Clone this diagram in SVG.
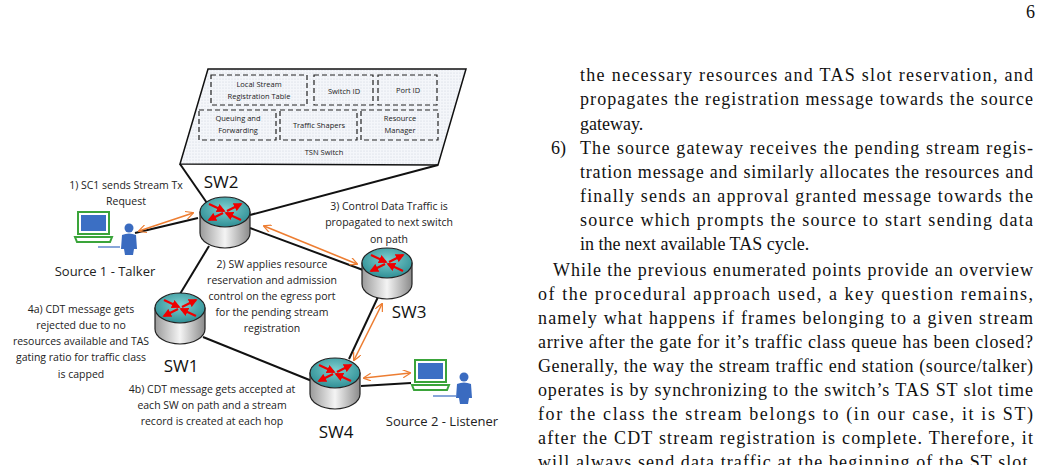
<svg xmlns="http://www.w3.org/2000/svg" width="1039" height="465" viewBox="0 0 1039 465">
<style>
.t{font-family:"Open Sans","Liberation Sans",sans-serif;font-size:10.5px;fill:#222;text-anchor:middle}
.s{font-family:"Open Sans","Liberation Sans",sans-serif;font-size:7.5px;fill:#222;text-anchor:middle}
.lab{font-family:"Open Sans","Liberation Sans",sans-serif;font-size:17px;fill:#111;text-anchor:middle}
.src{font-family:"Open Sans","Liberation Sans",sans-serif;font-size:13px;fill:#222;text-anchor:middle}
.p{font-family:"Liberation Serif",serif;font-size:18px;fill:#111}
.ln{stroke:#111;stroke-width:2;fill:none}
.or{stroke:#ED7D31;stroke-width:1.6;fill:none;marker-start:url(#oa);marker-end:url(#oa)}
.db{fill:none;stroke:#222;stroke-width:1.2;stroke-dasharray:5 3}
</style>
<defs>
<pattern id="dots" width="3" height="3" patternUnits="userSpaceOnUse"><rect width="3" height="3" fill="#f4f6fa"/><circle cx="1" cy="1" r="0.5" fill="#c5cbd6"/></pattern>
<marker id="oa" viewBox="0 0 10 10" refX="9" refY="5" markerWidth="8" markerHeight="8" orient="auto-start-reverse" markerUnits="userSpaceOnUse"><path d="M0,0 L10,5 L0,10" fill="none" stroke="#ED7D31" stroke-width="1.5"/></marker>
<marker id="ra" viewBox="0 0 10 10" refX="8" refY="5" markerWidth="4" markerHeight="4" orient="auto"><path d="M0,0 L10,5 L0,10z" fill="#e00"/></marker>
<linearGradient id="cyl" x1="0" x2="1"><stop offset="0" stop-color="#9a9a9a"/><stop offset="0.5" stop-color="#f4f4f4"/><stop offset="1" stop-color="#8a8a8a"/></linearGradient>
<radialGradient id="top" cx="0.5" cy="0.4" r="0.6"><stop offset="0" stop-color="#7fd0d0"/><stop offset="1" stop-color="#2f8f95"/></radialGradient>
<g id="router">
<path d="M-25,0 L-25,21 A25,15 0 0 0 25,21 L25,0 Z" fill="url(#cyl)" stroke="#222" stroke-width="1.2"/>
<ellipse cx="0" cy="0" rx="25" ry="15" fill="url(#top)" stroke="#222" stroke-width="1.2"/>
<g stroke="#e00" stroke-width="2.2" marker-end="url(#ra)">
<line x1="-16" y1="-8" x2="-1" y2="-1"/><line x1="16" y1="8" x2="1" y2="1"/>
<line x1="-2" y1="1" x2="-16" y2="8"/><line x1="2" y1="-1" x2="16" y2="-8"/>
</g>
</g>
<g id="laptop">
<rect x="3" y="0" width="31" height="22" fill="#fff" stroke="#3aa43a" stroke-width="2"/>
<rect x="6" y="3" width="25" height="16" fill="#3b6fc4"/>
<path d="M0,25 L37,25 L35,30 L2,30 Z" fill="#fff" stroke="#3aa43a" stroke-width="2"/>
</g>
<g id="person" fill="#3a6bc0">
<circle cx="9" cy="5" r="4.5"/>
<path d="M2,12 Q9,9 16,12 L17,26 L14,26 L13,32 L5,32 L4,26 L1,26 Z"/>
</g>
</defs>
<rect width="1039" height="465" fill="#fff"/>

<g id="tsn-switch">
<polygon points="208,69 466,69 438,165 180,164" fill="url(#dots)" stroke="#111" stroke-width="1.5"/>
<rect x="211" y="75" width="96" height="30" class="db"/>
<text class="s" x="259" y="87">Local Stream</text><text class="s" x="259" y="99">Registration Table</text>
<rect x="314" y="75" width="59" height="30" class="db"/>
<text class="s" x="344" y="94">Switch ID</text>
<rect x="378" y="75" width="59" height="30" class="db"/>
<text class="s" x="408" y="93">Port ID</text>
<rect x="199" y="110" width="77" height="30" class="db"/>
<text class="s" x="238" y="121">Queuing and</text><text class="s" x="238" y="133">Forwarding</text>
<rect x="280" y="110" width="77" height="30" class="db"/>
<text class="s" x="319" y="128">Traffic Shapers</text>
<rect x="361" y="110" width="77" height="30" class="db"/>
<text class="s" x="400" y="121">Resource</text><text class="s" x="400" y="133">Manager</text>
<text class="s" x="324" y="155">TSN Switch</text>
</g>

<g id="connectors">
<line class="ln" x1="180" y1="164" x2="207" y2="203"/>
<line class="ln" x1="438" y1="165" x2="250" y2="215"/>
<line class="ln" x1="135" y1="233" x2="198" y2="218"/>
<line class="ln" x1="250" y1="228" x2="363" y2="270"/>
<line class="ln" x1="209" y1="246" x2="180" y2="294"/>
<line class="ln" x1="203" y1="337" x2="312" y2="381"/>
<line class="ln" x1="378" y1="297" x2="349" y2="359"/>
<line class="ln" x1="361" y1="386" x2="411" y2="383"/>
<line class="or" x1="139" y1="231" x2="193" y2="213"/>
<line class="or" x1="264" y1="226" x2="357" y2="264"/>
<line class="or" x1="382" y1="304" x2="354" y2="360"/>
<line class="or" x1="364" y1="378" x2="410" y2="373"/>
</g>

<g id="sw2"><use href="#router" x="225" y="212"/><text class="lab" x="221" y="188">SW2</text></g>
<g id="sw3"><use href="#router" x="387" y="263"/><text class="lab" x="409" y="318">SW3</text></g>
<g id="sw1"><use href="#router" x="180" y="308"/><text class="lab" x="181" y="372">SW1</text></g>
<g id="sw4"><use href="#router" x="335" y="373"/><text class="lab" x="336" y="438">SW4</text></g>

<g id="source1"><use href="#laptop" x="75" y="212"/><use href="#person" x="120" y="223"/><line x1="98" y1="247" x2="120" y2="247" stroke="#3a6bc0" stroke-width="1.2"/><text class="src" x="105" y="276">Source 1 - Talker</text></g>
<g id="source2"><use href="#laptop" x="412" y="360"/><use href="#person" x="455" y="372"/><line x1="433" y1="396" x2="456" y2="396" stroke="#3a6bc0" stroke-width="1.2"/><text class="src" x="442" y="426">Source 2 - Listener</text></g>

<g id="labels">
<text class="t" x="126" y="189">1) SC1 sends Stream Tx</text><text class="t" x="126" y="205">Request</text>
<text class="t" x="389" y="210">3) Control Data Traffic is</text><text class="t" x="389" y="226">propagated to next switch</text><text class="t" x="389" y="243">on path</text>
<text class="t" x="272" y="268">2) SW applies resource</text><text class="t" x="272" y="284">reservation and admission</text><text class="t" x="272" y="300">control on the egress port</text><text class="t" x="272" y="316">for the pending stream</text><text class="t" x="272" y="332">registration</text>
<text class="t" x="81" y="313">4a) CDT message gets</text><text class="t" x="81" y="329">rejected due to no</text><text class="t" x="81" y="345">resources available and TAS</text><text class="t" x="81" y="361">gating ratio for traffic class</text><text class="t" x="81" y="378">is capped</text>
<text class="t" x="212" y="393">4b) CDT message gets accepted at</text><text class="t" x="212" y="409">each SW on path and a stream</text><text class="t" x="212" y="425">record is created at each hop</text>
</g>

<g id="page-text">
<text class="p" x="1026" y="18" font-size="12">6</text>
<text class="p" x="580" y="81" textLength="453" lengthAdjust="spacing">the necessary resources and TAS slot reservation, and</text>
<text class="p" x="580" y="105" textLength="453" lengthAdjust="spacing">propagates the registration message towards the source</text>
<text class="p" x="580" y="130">gateway.</text>
<text class="p" x="551" y="154">6)</text>
<text class="p" x="580" y="154" textLength="453" lengthAdjust="spacing">The source gateway receives the pending stream regis-</text>
<text class="p" x="580" y="178" textLength="453" lengthAdjust="spacing">tration message and similarly allocates the resources and</text>
<text class="p" x="580" y="202" textLength="453" lengthAdjust="spacing">finally sends an approval granted message towards the</text>
<text class="p" x="580" y="226" textLength="453" lengthAdjust="spacing">source which prompts the source to start sending data</text>
<text class="p" x="580" y="250">in the next available TAS cycle.</text>
<text class="p" x="553" y="276" textLength="480" lengthAdjust="spacing">While the previous enumerated points provide an overview</text>
<text class="p" x="538" y="300" textLength="495" lengthAdjust="spacing">of the procedural approach used, a key question remains,</text>
<text class="p" x="538" y="324" textLength="495" lengthAdjust="spacing">namely what happens if frames belonging to a given stream</text>
<text class="p" x="538" y="348" textLength="495" lengthAdjust="spacing">arrive after the gate for it’s traffic class queue has been closed?</text>
<text class="p" x="538" y="372" textLength="495" lengthAdjust="spacing">Generally, the way the stream traffic end station (source/talker)</text>
<text class="p" x="538" y="396" textLength="495" lengthAdjust="spacing">operates is by synchronizing to the switch’s TAS ST slot time</text>
<text class="p" x="538" y="420" textLength="495" lengthAdjust="spacing">for the class the stream belongs to (in our case, it is ST)</text>
<text class="p" x="538" y="444" textLength="495" lengthAdjust="spacing">after the CDT stream registration is complete. Therefore, it</text>
<text class="p" x="538" y="468" textLength="495" lengthAdjust="spacing">will always send data traffic at the beginning of the ST slot.</text>
</g>
</svg>
